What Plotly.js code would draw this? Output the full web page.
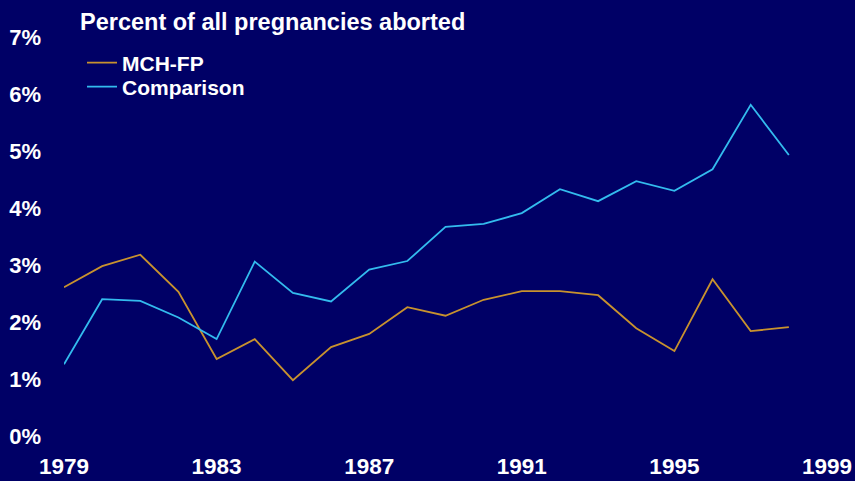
<!DOCTYPE html>
<html>
<head>
<meta charset="utf-8">
<script src="https://cdn.plot.ly/plotly-3.0.1.min.js"></script>
<style>
html,body{margin:0;padding:0;background:#000066;}
#chart{width:855px;height:481px;}
</style>
</head>
<body>
<div id="chart"></div>
<script>
const years = [1979,1980,1981,1982,1983,1984,1985,1986,1987,1988,1989,1990,1991,1992,1993,1994,1995,1996,1997,1998];
const mchfp = [2.61,2.98,3.18,2.53,1.35,1.70,0.98,1.56,1.79,2.26,2.11,2.39,2.54,2.54,2.47,1.89,1.49,2.75,1.84,1.91];
const comparison = [1.26,2.40,2.37,2.08,1.70,3.06,2.51,2.36,2.92,3.07,3.67,3.72,3.91,4.33,4.12,4.47,4.30,4.68,5.81,4.93];
const xTicks = [1979,1983,1987,1991,1995,1999];
const yTicks = [0,1,2,3,4,5,6,7];
const yTickLabels = ['0%','1%','2%','3%','4%','5%','6%','7%'];

const fam = '"Liberation Sans", Arial, sans-serif';
const legFont = {family:fam, size:21, color:'#ffffff', weight:'bold'};

const traces = [
  {x:years, y:mchfp, name:'MCH-FP', type:'scatter', mode:'lines', legend:'legend',
   line:{color:'#C8922E', width:1.8}},
  {x:years, y:comparison, name:'Comparison', type:'scatter', mode:'lines', legend:'legend2',
   line:{color:'#33BBEE', width:1.8}}
];

const legX = (82-64)/763;
const layout = {
  width:855, height:481,
  paper_bgcolor:'#000066', plot_bgcolor:'#000066',
  margin:{l:64, r:28, t:37, b:45, pad:0},
  font:{family:fam, color:'#ffffff', size:22},
  title:{text:'<b>Percent of all pregnancies aborted</b>', font:{family:fam, size:23.5, color:'#ffffff'},
         xref:'container', yref:'container', x:80/855, xanchor:'left', y:1-22/481, yanchor:'middle'},
  showlegend:true,
  legend:{x:legX, xanchor:'left', y:(436-63)/399, yanchor:'middle', bgcolor:'rgba(0,0,0,0)',
          font:legFont, itemwidth:30},
  legend2:{x:legX, xanchor:'left', y:(436-87)/399, yanchor:'middle', bgcolor:'rgba(0,0,0,0)',
          font:legFont, itemwidth:30},
  xaxis:{range:[1979,1999], tickvals:xTicks, ticktext:xTicks.map(String), showgrid:false, zeroline:false,
         showline:false, ticks:'', ticklabelstandoff:14,
         tickfont:{family:fam, size:22.5, color:'#ffffff', weight:'bold'}},
  yaxis:{range:[0,7], tickvals:yTicks, ticktext:yTickLabels, showgrid:false, zeroline:false,
         showline:false, ticks:'', ticklabelstandoff:22,
         tickfont:{family:fam, size:22, color:'#ffffff', weight:'bold'}}
};

Plotly.newPlot('chart', traces, layout, {displayModeBar:false, staticPlot:true});
</script>
</body>
</html>
